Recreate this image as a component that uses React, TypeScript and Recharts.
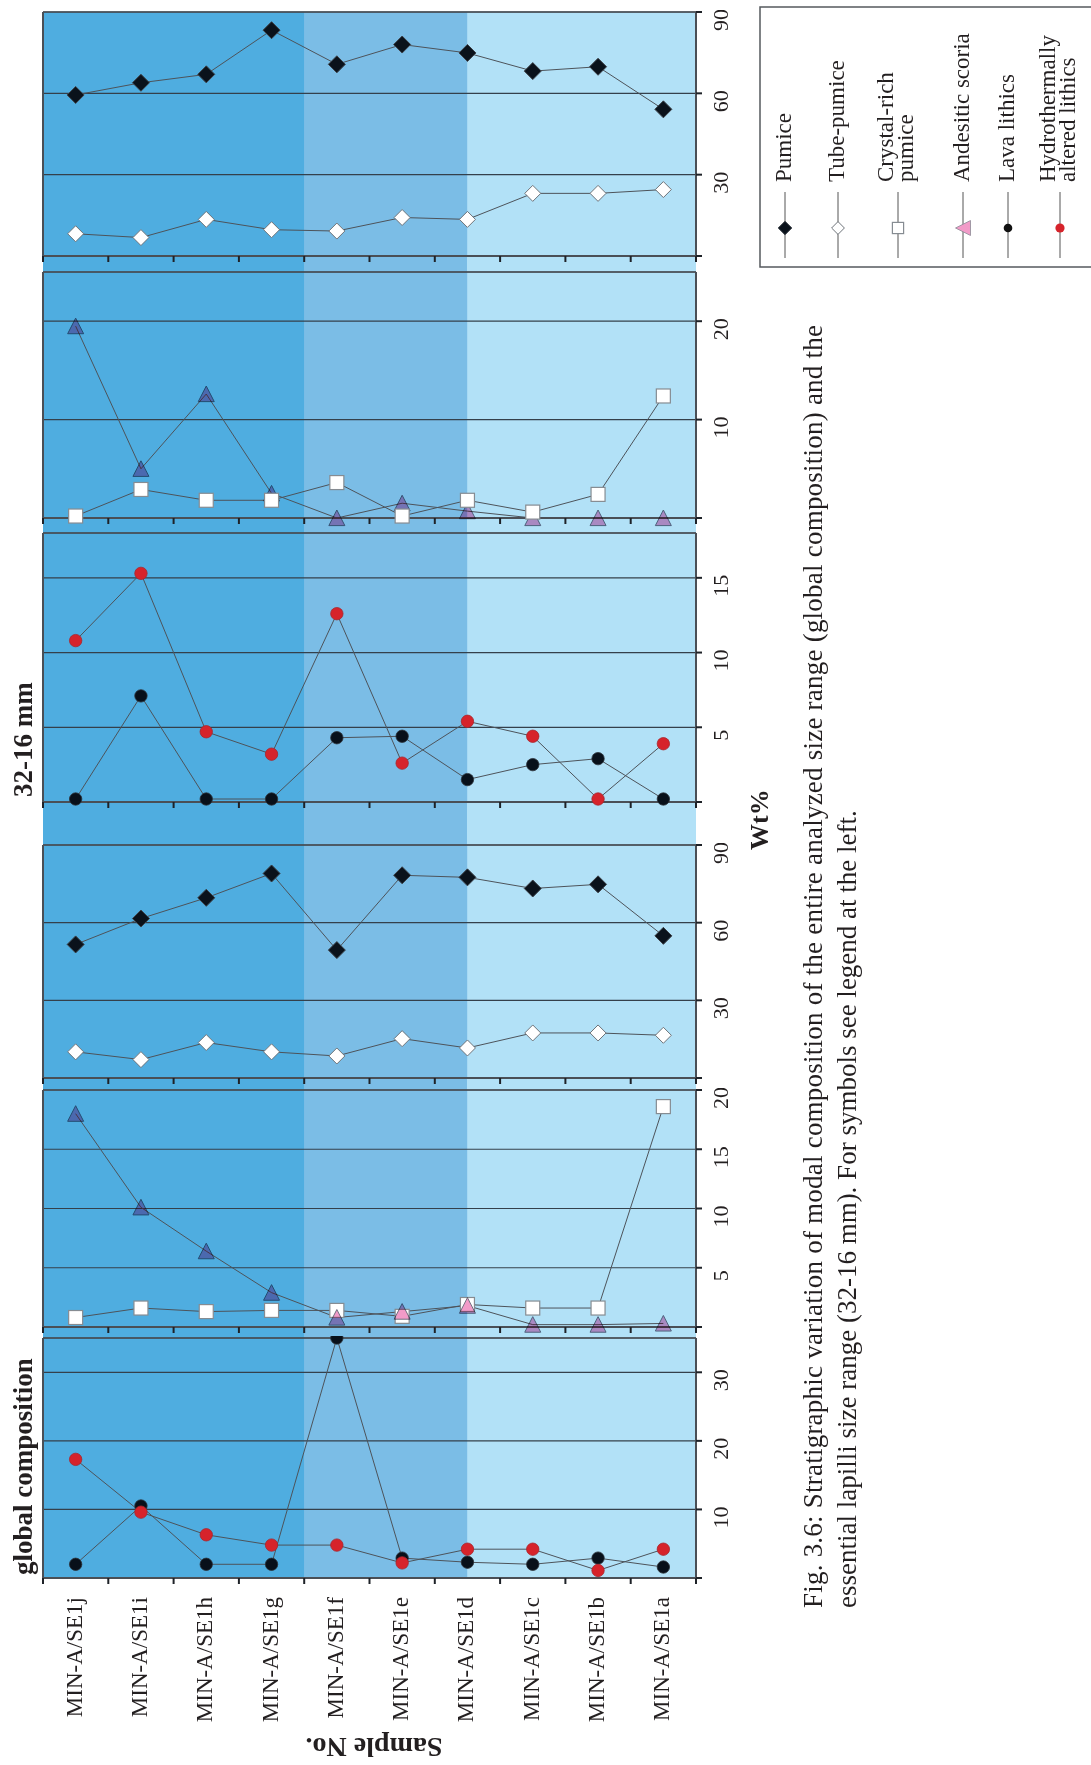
import React from 'react';
import { LineChart, Line, XAxis, YAxis, CartesianGrid, ReferenceLine, ReferenceArea } from 'recharts';

// ---------- data ----------
const samples = ['MIN-A/SE1j', 'MIN-A/SE1i', 'MIN-A/SE1h', 'MIN-A/SE1g', 'MIN-A/SE1f', 'MIN-A/SE1e', 'MIN-A/SE1d', 'MIN-A/SE1c', 'MIN-A/SE1b', 'MIN-A/SE1a'];

// 32-16 mm (wt%)
const pumice32 = [59.4, 63.9, 67.0, 83.3, 70.7, 78.0, 74.9, 68.2, 69.8, 54.1];
const tube32 = [8.2, 6.8, 13.5, 9.7, 9.2, 14.2, 13.5, 23.1, 23.1, 24.5];
const andesitic32 = [19.5, 5.0, 12.6, 2.5, 0, 1.5, 0.7, 0, 0, 0];
const crystal32 = [0.2, 2.9, 1.8, 1.8, 3.6, 0.2, 1.8, 0.6, 2.4, 12.4];
const lava32 = [0.2, 7.1, 0.2, 0.2, 4.3, 4.4, 1.5, 2.5, 2.9, 0.2];
const hydro32 = [10.8, 15.3, 4.7, 3.2, 12.6, 2.6, 5.4, 4.4, 0.2, 3.9];

// global composition (wt%)
const pumiceG = [51.6, 61.6, 69.6, 79.0, 49.4, 78.3, 77.5, 73.2, 74.8, 54.9];
const tubeG = [10.1, 7.1, 13.7, 10.1, 8.5, 15.2, 11.6, 17.4, 17.4, 16.5];
const andesiticG = [18.0, 10.1, 6.4, 2.9, 0.8, 1.3, 1.8, 0.2, 0.2, 0.3];
const crystalG = [0.8, 1.6, 1.3, 1.4, 1.4, 0.9, 1.9, 1.6, 1.6, 18.6];
const lavaG = [2.0, 10.5, 2.0, 2.0, 35.0, 2.9, 2.3, 2.0, 2.9, 1.6];
const hydroG = [17.3, 9.6, 6.3, 4.8, 4.8, 2.2, 4.2, 4.2, 1.1, 4.2];

// stratigraphic zones (in sample units along the axis)
const zoneEdges = [0, 4, 6.5, 10];
const zoneColors = ['#4FADE0', '#7BBDE6', '#B2E1F7'];

const legendKinds = ['pumice', 'tube', 'crystal', 'andesitic', 'lava', 'hydro'];
const legendNames = [['Pumice'], ['Tube-pumice'], ['Crystal-rich', 'pumice'], ['Andesitic scoria'], ['Lava lithics'], ['Hydrothermally', 'altered lithics']];

const captionLines = [
  'Fig. 3.6: Stratigraphic variation of modal composition of the entire analyzed size range (global composition) and the',
  'essential lapilli size range (32-16 mm). For symbols see legend at the left.',
];

// ---------- tables ----------
const buildRows = (p: number[], t: number[], c: number[], a: number[], l: number[], h: number[]) =>
  samples.map((sample, i) => ({ sample, pumice: p[i], tube: t[i], crystal: c[i], andesitic: a[i], lava: l[i], hydro: h[i] }));
const rows32 = buildRows(pumice32, tube32, crystal32, andesitic32, lava32, hydro32);
const rowsG = buildRows(pumiceG, tubeG, crystalG, andesiticG, lavaG, hydroG);

// ---------- layout ----------
const W = 1091;
const PLOT_L = 43;
const PLOT_R = 696;
const BAND = (PLOT_R - PLOT_L) / samples.length;
const Y_W = 40;
const MT = 2;
const SERIF = "'Liberation Serif', 'Times New Roman', serif";
const INK = '#231F20';
const FRAME = '#4A4F56';
const GRID = '#34404B';
const LINE = '#4D535A';
const EDGE_TICKS = Array.from({ length: samples.length * 2 + 1 }, (_, i) => i / 2);

const panels = [
  { top: 12, bottom: 256, max: 90, ticks: [0, 30, 60, 90], rows: rows32, series: ['tube', 'pumice'], labels: false },
  { top: 272, bottom: 518, max: 25, ticks: [0, 10, 20], rows: rows32, series: ['andesitic', 'crystal'], labels: false },
  { top: 533, bottom: 802, max: 18, ticks: [0, 5, 10, 15], rows: rows32, series: ['lava', 'hydro'], labels: false },
  { top: 845, bottom: 1078, max: 90, ticks: [0, 30, 60, 90], rows: rowsG, series: ['tube', 'pumice'], labels: false },
  { top: 1090, bottom: 1327, max: 20, ticks: [0, 5, 10, 15, 20], rows: rowsG, series: ['crystal', 'andesitic'], labels: false },
  { top: 1338, bottom: 1578, max: 35, ticks: [0, 10, 20, 30], rows: rowsG, series: ['lava', 'hydro'], labels: true },
];

// ---------- markers ----------
function Marker({ kind, cx, cy, s = 1 }: { kind: string; cx: number; cy: number; s?: number }) {
  if (cx == null || cy == null || isNaN(cx) || isNaN(cy)) return <g />;
  switch (kind) {
    case 'pumice': {
      const r = 8.5 * s;
      return <path d={`M${cx},${cy - r}L${cx + r},${cy}L${cx},${cy + r}L${cx - r},${cy}Z`} fill="#0A121B" stroke="#3C4148" strokeWidth={1} />;
    }
    case 'tube': {
      const r = 8 * s;
      return <path d={`M${cx},${cy - r}L${cx + r},${cy}L${cx},${cy + r}L${cx - r},${cy}Z`} fill="#FFFFFF" stroke="#6E747A" strokeWidth={1} />;
    }
    case 'crystal': {
      const r = 7 * s;
      return <rect x={cx - r} y={cy - r} width={2 * r} height={2 * r} fill="#FFFFFF" stroke="#868C92" strokeWidth={1.2} />;
    }
    case 'andesitic': {
      const r = 8 * s;
      return <path d={`M${cx},${cy - r}L${cx + r},${cy + r * 0.95}L${cx - r},${cy + r * 0.95}Z`} fill="#F29BC8" stroke="#6F6F80" strokeWidth={1} style={{ mixBlendMode: 'multiply' }} />;
    }
    case 'lava':
      return <circle cx={cx} cy={cy} r={6.2 * s} fill="#08101A" stroke="#2C3138" strokeWidth={0.8} />;
    case 'hydro':
    default:
      return <circle cx={cx} cy={cy} r={6.2 * s} fill="#D6232B" stroke="#A8262C" strokeWidth={0.8} />;
  }
}

// ---------- ticks ----------
function EdgeTick(props: any) {
  const { x, y, payload, showLabels } = props;
  const v = payload.value as number;
  if (Number.isInteger(v)) {
    return <line x1={x} y1={y} x2={x} y2={y + 6} stroke="#1E2228" strokeWidth={2} />;
  }
  if (!showLabels) return <g />;
  const name = samples[Math.floor(v)];
  return (
    <text transform={`translate(${x + 6},${y + 19}) rotate(-90)`} textAnchor="end" fontFamily={SERIF} fontSize={23} fill={INK}>
      {name}
    </text>
  );
}

function ValueTick(props: any) {
  const { x, y, payload } = props;
  if (payload.value === 0) return <g />;
  return (
    <text transform={`translate(${x + 26},${y + 8}) rotate(-90)`} textAnchor="middle" fontFamily={SERIF} fontSize={22} fill={INK}>
      {payload.value}
    </text>
  );
}

function Panel({ p }: { p: any }) {
  const plotH = p.bottom - p.top;
  const axisH = p.labels ? 170 : 10;
  return (
    <div style={{ position: 'absolute', left: 0, top: p.top - MT }}>
      <LineChart
        width={W}
        height={MT + plotH + axisH}
        data={p.rows}
        margin={{ top: MT, right: W - PLOT_R - Y_W, bottom: 0, left: PLOT_L }}
      >
        {zoneColors.map((c, i) => (
          <ReferenceArea
            key={`z${i}`}
            xAxisId="edges"
            yAxisId="v"
            x1={zoneEdges[i]}
            x2={zoneEdges[i + 1]}
            fill={c}
            fillOpacity={1}
            stroke="none"
            zIndex={-200}
          />
        ))}
        <CartesianGrid xAxisId="edges" yAxisId="v" vertical={false} stroke={GRID} strokeWidth={1.2} />
        <XAxis xAxisId="cat" dataKey="sample" type="category" hide height={0} padding={{ left: BAND / 2, right: BAND / 2 }} />
        <XAxis
          xAxisId="edges"
          dataKey="edge"
          type="number"
          domain={[0, samples.length]}
          allowDataOverflow
          ticks={EDGE_TICKS}
          interval={0}
          allowDecimals
          tickSize={0}
          tickMargin={0}
          tickLine={false}
          axisLine={{ stroke: FRAME, strokeWidth: 2 }}
          height={axisH}
          tick={<EdgeTick showLabels={p.labels} />}
        />
        <YAxis
          yAxisId="v"
          orientation="right"
          type="number"
          domain={[0, p.max]}
          ticks={p.ticks}
          interval={0}
          width={Y_W}
          tickSize={6}
          tickMargin={0}
          tickLine={{ stroke: '#1E2228', strokeWidth: 2 }}
          axisLine={{ stroke: FRAME, strokeWidth: 2 }}
          tick={<ValueTick />}
        />
        <ReferenceLine xAxisId="edges" yAxisId="v" x={0} stroke={FRAME} strokeWidth={2} />
        <ReferenceLine xAxisId="edges" yAxisId="v" y={p.max} stroke={FRAME} strokeWidth={1.5} />
        {p.series.map((k: string) => (
          <Line
            key={k}
            xAxisId="cat"
            yAxisId="v"
            dataKey={k}
            stroke={LINE}
            strokeWidth={1}
            isAnimationActive={false}
            activeDot={false}
            legendType="none"
            dot={(d: any) => <Marker key={`${k}-${d.index}`} kind={k} cx={d.cx} cy={d.cy} />}
          />
        ))}
      </LineChart>
    </div>
  );
}

function LegendMarker({ kind, x, y }: { kind: string; x: number; y: number }) {
  if (kind === 'andesitic') {
    return <path d={`M${x - 7.5},${y}L${x + 7.5},${y - 7.5}L${x + 7.5},${y + 7.5}Z`} fill="#F29BC8" stroke="#8A8A96" strokeWidth={0.8} />;
  }
  if (kind === 'lava') return <circle cx={x} cy={y} r={4.3} fill="#111" />;
  if (kind === 'hydro') return <circle cx={x} cy={y} r={4.6} fill="#D6232B" />;
  return <Marker kind={kind} cx={x} cy={y} s={0.8} />;
}

const LEGEND_X = [785, 838, 898, 963, 1008, 1060];

function Overlay() {
  return (
    <svg width={W} height={1765} style={{ position: 'absolute', left: 0, top: 0, pointerEvents: 'none' }}>
      {/* legend */}
      <rect x={760} y={7} width={345} height={260} fill="#FFFFFF" stroke="#55595E" strokeWidth={1.5} />
      {legendKinds.map((k, i) => {
        const x = LEGEND_X[i];
        const names = legendNames[i];
        return (
          <g key={k}>
            <line x1={x} y1={192} x2={x} y2={258} stroke="#555" strokeWidth={1} />
            <LegendMarker kind={k} x={x} y={228} />
            {names.map((n, j) => {
              const bx = names.length === 1 ? x + 6 : x - 5 + j * 20;
              return (
                <text key={j} transform={`translate(${bx},182) rotate(-90)`} textAnchor="start" fontFamily={SERIF} fontSize={23} fill={INK}>
                  {n}
                </text>
              );
            })}
          </g>
        );
      })}
      {/* titles */}
      <text transform="translate(31.5,797) rotate(-90)" fontFamily={SERIF} fontWeight="bold" fontSize={27} fill={INK}>32-16 mm</text>
      <text transform="translate(31.5,1575) rotate(-90)" fontFamily={SERIF} fontWeight="bold" fontSize={27} fill={INK}>global composition</text>
      <text transform="translate(768,850) rotate(-90)" fontFamily={SERIF} fontWeight="bold" fontSize={26} fill={INK}>Wt%</text>
      <text transform="translate(374,1738) rotate(180)" textAnchor="middle" fontFamily={SERIF} fontWeight="bold" fontSize={28} fill={INK}>Sample No.</text>
      {/* caption */}
      <text transform="translate(822,1608) rotate(-90)" fontFamily={SERIF} fontSize={27} fill={INK} textLength={1283} lengthAdjust="spacing">{captionLines[0]}</text>
      <text transform="translate(856,1608) rotate(-90)" fontFamily={SERIF} fontSize={27} fill={INK}>{captionLines[1]}</text>
    </svg>
  );
}

export default function App() {
  return (
    <div style={{ position: 'absolute', left: 0, top: 0, width: W, height: 1765, background: '#FFFFFF', overflow: 'hidden', fontFamily: SERIF }}>
      {zoneColors.map((c, i) => (
        <div
          key={i}
          style={{
            position: 'absolute',
            left: PLOT_L + zoneEdges[i] * BAND,
            width: (zoneEdges[i + 1] - zoneEdges[i]) * BAND,
            top: panels[0].top,
            height: panels[panels.length - 1].bottom - panels[0].top,
            background: c,
          }}
        />
      ))}
      {panels.map((p, i) => (
        <Panel key={i} p={p} />
      ))}
      <Overlay />
    </div>
  );
}
